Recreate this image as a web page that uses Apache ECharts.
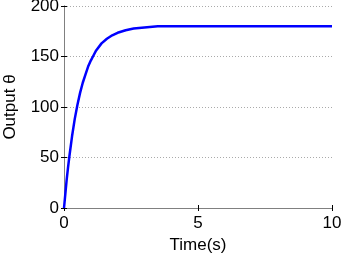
<!DOCTYPE html>
<html><head><meta charset="utf-8">
<script src="https://cdn.jsdelivr.net/npm/echarts@6/dist/echarts.min.js"></script>
<style>html,body{margin:0;padding:0;background:#fff}#c{width:342px;height:260px}</style>
</head><body><div id="c"></div>
<script>
var time = [0,0.05,0.1,0.15,0.2,0.3,0.4,0.5,0.6,0.7,0.8,0.9,1.0,1.1,1.2,1.4,1.6,1.8,2.0,2.3,2.6,3.0,3.5,4,5,6,7,8,9,10];
var theta = [0,14,28,40,51,71,88,102,114,124,132,140,146,151,156,163,167.5,171,173.5,176,177.7,178.8,180,180,180,180,180,180,180,180];
var xTicks = [0,5,10];
var yTicks = [0,50,100,150,200];

var chart = echarts.init(document.getElementById('c'));
var font = 'Liberation Sans, Arial, sans-serif';
var data = time.map(function(t,i){return [t, theta[i]];});
chart.setOption({
  animation:false,
  grid:{left:64,right:10,top:6,bottom:52,containLabel:false,outerBoundsMode:'none'},
  xAxis:[{type:'value',min:xTicks[0],max:xTicks[xTicks.length-1],interval:5,
    name:'Time(s)',nameLocation:'middle',nameGap:29,
    nameTextStyle:{fontFamily:font,fontSize:17,color:'#000'},
    axisLine:{show:true,lineStyle:{color:'#808080',width:1}},
    axisTick:{show:true,inside:true,length:3,lineStyle:{color:'#000'}},
    axisLabel:{fontFamily:font,fontSize:17,color:'#000',margin:7},
    splitLine:{show:false}},
   {type:'value',position:'top',min:0,max:10,interval:5,
    axisLine:{show:true,lineStyle:{color:'#808080',width:1}},
    axisTick:{show:true,inside:true,length:3,lineStyle:{color:'#000'}},
    axisLabel:{show:false},splitLine:{show:false}}],
  yAxis:[{type:'value',min:yTicks[0],max:yTicks[yTicks.length-1],interval:50,
    name:'Output \u03b8',nameLocation:'middle',nameGap:45,
    nameTextStyle:{fontFamily:font,fontSize:17,color:'#000'},
    axisLine:{show:true,lineStyle:{color:'#808080',width:1}},
    axisTick:{show:true,inside:true,length:3,lineStyle:{color:'#000'}},
    axisLabel:{fontFamily:font,fontSize:17,color:'#000',margin:5},
    splitLine:{show:true,lineStyle:{color:'#aaa',type:[1,2],width:1}}},
   {type:'value',position:'right',min:0,max:200,interval:50,
    axisLine:{show:true,lineStyle:{color:'#808080',width:1}},
    axisTick:{show:true,inside:true,length:3,lineStyle:{color:'#000'}},
    axisLabel:{show:false},splitLine:{show:false}}],
  series:[{type:'line',data:data,showSymbol:false,symbol:'none',
    lineStyle:{color:'#0000ff',width:2.5},z:5}]
});
</script></body></html>
